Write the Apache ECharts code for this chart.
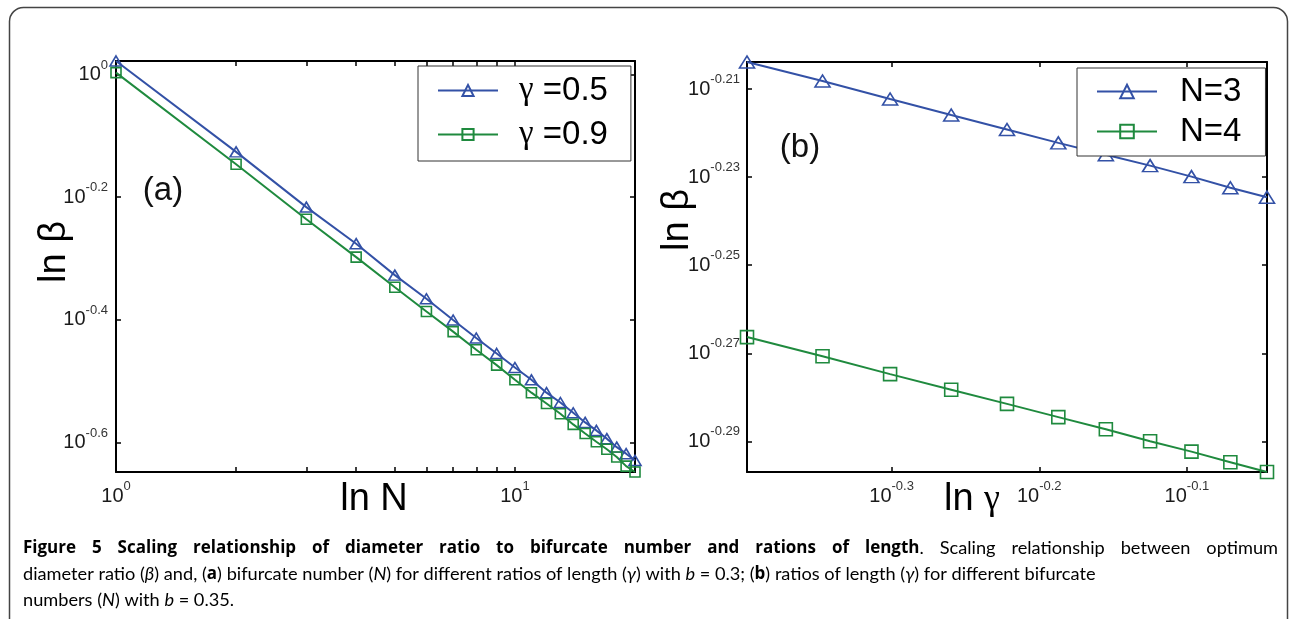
<!DOCTYPE html>
<html><head><meta charset="utf-8">
<script src="https://cdn.jsdelivr.net/npm/echarts@6/dist/echarts.min.js"></script>
<style>html,body{margin:0;padding:0;background:#fff}#c{width:1290px;height:619px}</style>
</head><body><div id="c"></div>
<script>
// ---- Panel (a): beta vs N ----
const nValues = [1,2,3,4,5,6,7,8,9,10,11,12,13,14,15,16,17,18,19,20];
const betaGamma05 = [1.052,0.748,0.608,0.530,0.471,0.431,0.398,0.372,0.351,0.333,0.318,0.303,0.292,0.281,0.271,0.263,0.255,0.247,0.241,0.235];
const betaGamma09 = [1.007,0.714,0.581,0.504,0.450,0.411,0.381,0.356,0.336,0.318,0.303,0.291,0.280,0.269,0.260,0.252,0.245,0.238,0.230,0.225];
// ---- Panel (b): beta vs gamma ----
const gammaValues = [0.40,0.45,0.50,0.55,0.60,0.65,0.70,0.75,0.80,0.85,0.90];
const betaN3 = [0.6254,0.6192,0.6134,0.6083,0.6037,0.5995,0.5958,0.5924,0.5890,0.5856,0.5827];
const betaN4 = [0.5416,0.5362,0.5312,0.5269,0.5230,0.5194,0.5161,0.5129,0.5101,0.5073,0.5047];
// ---- ticks ----
const xTicksA = [1,2,3,4,5,6,7,8,9,10,20];
const xLabelsA = [1,10];
const yTickExpA = [0,-0.2,-0.4,-0.6];
const xTickExpB = [-0.3,-0.2,-0.1];
const yTickExpB = [-0.21,-0.23,-0.25,-0.27,-0.29];
const namesA = ['γ =0.5','γ =0.9'];
const namesB = ['N=3','N=4'];
// ---- caption ----
const capTitle = 'Figure 5 Scaling relationship of diameter ratio to bifurcate number and rations of length';
const capRest1 = 'Scaling relationship between optimum';

const BLUE = '#3351a6', GREEN = '#1f8a3e';
const pw = e => Math.pow(10, e);
const ext = arrs => { const all = [].concat(...arrs); return [Math.min(...all), Math.max(...all)]; };
const xExtA = ext([nValues]), yExtA = ext([betaGamma05, betaGamma09]);
const xExtB = ext([gammaValues]), yExtB = ext([betaN3, betaN4]);

function powLabel(v){ const e = Math.round(Math.log10(v)*100)/100; return '{b|10}{s|' + e + '}'; }
const labelRich = {
  b:{fontFamily:'Liberation Sans', fontSize:20, color:'#1a1a1a', lineHeight:32},
  s:{fontFamily:'Liberation Sans', fontSize:13, color:'#333', verticalAlign:'top', lineHeight:14}
};
function axis(grid, pos, ext, ticks, labels, margin){
  return {
    type:'log', logBase:10, gridIndex:grid, position:pos, min:ext[0], max:ext[1],
    axisLine:{show:true, onZero:false, lineStyle:{color:'#000', width:2}},
    axisTick:{show:true, inside:true, length:5, lineStyle:{color:'#000', width:1.5}, customValues:ticks},
    axisLabel: labels ? {show:true, customValues:labels, formatter:powLabel, margin:margin, rich:labelRich, hideOverlap:false} : {show:false},
    splitLine:{show:false}, minorTick:{show:false}, minorSplitLine:{show:false}
  };
}
const yTicksA = yTickExpA.map(pw), xTicksB = xTickExpB.map(pw), yTicksB = yTickExpB.map(pw);

function series(name, xi, yi, xs, ys, color, sym, size){
  return {
    type:'line', name:name, xAxisIndex:xi, yAxisIndex:yi,
    data: xs.map((x,i)=>[x, ys[i]]),
    symbol:sym, symbolSize:size, showAllSymbol:true, clip:false,
    lineStyle:{color:color, width:2},
    itemStyle:{color:'rgba(255,255,255,0)', borderColor:color, borderWidth:1.6},
    emphasis:{disabled:true}, animation:false
  };
}

const CAP_R = 18.2, CAP_B = 17;
const capR = {fontFamily:'Lato', fontSize:CAP_R, color:'#3a3a3a'};
const capI = {fontFamily:'Lato', fontStyle:'italic', fontSize:CAP_R, color:'#3a3a3a'};
const capB = {fontFamily:'Open Sans', fontWeight:'bold', fontSize:CAP_B, color:'#231f20'};

// justified first caption line (word placement only)
const mctx = document.createElement('canvas').getContext('2d');
function tw(t, font){ mctx.font = font; return mctx.measureText(t).width; }
const fB = 'bold ' + CAP_B + 'px "Open Sans"', fR = CAP_R + 'px Lato';
const words = capTitle.split(' ').map(w => ({rich:'{b|' + w + '}', w:tw(w, fB)}));
words[words.length-1].rich += '{r|.}';
words[words.length-1].w += tw('.', fR);
capRest1.split(' ').forEach(w => words.push({rich:'{r|' + w + '}', w:tw(w, fR)}));
const capL = 23, capRgt = 1278;
const sumW = words.reduce((s, o) => s + o.w, 0);
const gap = (capRgt - capL - sumW) / (words.length - 1);
let cx = capL;
const line1 = words.map(o => { const el = {type:'text', x:cx, y:548, style:{text:o.rich, align:'left', verticalAlign:'middle', rich:{b:capB, r:capR}}}; cx += o.w + gap; return el; });

const chart = echarts.init(document.getElementById('c'), null, {renderer:'canvas'});
chart.setOption({
  animation:false,
  backgroundColor:'#fff',
  grid:[
    {left:116, top:61, width:519, height:411},
    {left:747, top:62, width:520, height:410}
  ],
  xAxis:[
    axis(0,'bottom',xExtA,xTicksA,xLabelsA,8),
    axis(0,'top',xExtA,xTicksA,null),
    axis(1,'bottom',xExtB,xTicksB,xTicksB,8),
    axis(1,'top',xExtB,xTicksB,null)
  ],
  yAxis:[
    axis(0,'left',yExtA,yTicksA,yTicksA,8),
    axis(0,'right',yExtA,yTicksA,null),
    axis(1,'left',yExtB,yTicksB,yTicksB,7),
    axis(1,'right',yExtB,yTicksB,null)
  ],
  legend:[
    {left:418, top:66, orient:'vertical', data:namesA, selectedMode:false,
     backgroundColor:'#fff', borderColor:'#333', borderWidth:1, padding:[8,23,10,19],
     itemWidth:60, itemHeight:14, itemGap:11,
     formatter: n => '{g|γ}{t|' + n.slice(1) + '}',
     textStyle:{rich:{
       g:{fontFamily:'Liberation Serif', fontSize:33, color:'#000', padding:[0,0,0,16], lineHeight:33},
       t:{fontFamily:'Liberation Sans', fontSize:33, color:'#000', lineHeight:33}}}},
    {left:1077, top:68, orient:'vertical', data:namesB, selectedMode:false,
     backgroundColor:'#fff', borderColor:'#333', borderWidth:1, padding:[7,24,8,19],
     itemWidth:60, itemHeight:17, itemGap:7,
     formatter: n => '{t|' + n + '}',
     textStyle:{rich:{
       t:{fontFamily:'Liberation Sans', fontSize:33, color:'#000', padding:[0,0,0,18], lineHeight:33}}}}
  ],
  series:[
    series(namesA[0],0,0,nValues,betaGamma05,BLUE,'triangle',[12,10]),
    series(namesA[1],0,0,nValues,betaGamma09,GREEN,'rect',10),
    series(namesB[0],2,2,gammaValues,betaN3,BLUE,'triangle',[15,12]),
    series(namesB[1],2,2,gammaValues,betaN4,GREEN,'rect',13)
  ],
  graphic:[
    {type:'rect', shape:{x:9.5, y:7.5, width:1278, height:640, r:14}, style:{fill:'none', stroke:'#444', lineWidth:1.5}, silent:true, z:0},
    {type:'text', x:163, y:191, style:{text:'(a)', font:'33px "Liberation Sans"', fill:'#111', align:'center', verticalAlign:'middle'}},
    {type:'text', x:800, y:148, style:{text:'(b)', font:'33px "Liberation Sans"', fill:'#111', align:'center', verticalAlign:'middle'}},
    {type:'text', x:374, y:500, style:{text:'ln N', font:'38px "Liberation Sans"', fill:'#000', align:'center', verticalAlign:'middle'}},
    {type:'text', x:972, y:500, style:{text:'{a|ln }{g|γ}', align:'center', verticalAlign:'middle',
      rich:{a:{fontFamily:'Liberation Sans', fontSize:38, color:'#000'}, g:{fontFamily:'Liberation Serif', fontSize:36, color:'#000'}}}},
    {type:'text', x:55, y:252, rotation:Math.PI/2, style:{text:'ln β', font:'38px "Liberation Sans"', fill:'#000', align:'center', verticalAlign:'middle'}},
    {type:'text', x:678, y:220, rotation:Math.PI/2, style:{text:'ln β', font:'38px "Liberation Sans"', fill:'#000', align:'center', verticalAlign:'middle'}},
    ...line1,
    {type:'text', x:23, y:574, style:{text:'{r|diameter ratio (}{i|β}{r|) and, (}{bb|a}{r|) bifurcate number (}{i|N}{r|) for different ratios of length (}{i|γ}{r|) with }{i|b}{r| = 0.3; (}{bb|b}{r|) ratios of length (}{i|γ}{r|) for different bifurcate}', align:'left', verticalAlign:'middle',
      rich:{r:capR, i:capI, bb:capB}}},
    {type:'text', x:23, y:600, style:{text:'{r|numbers (}{i|N}{r|) with }{i|b}{r| = 0.35.}', align:'left', verticalAlign:'middle',
      rich:{r:capR, i:capI}}}
  ]
});
</script></body></html>
